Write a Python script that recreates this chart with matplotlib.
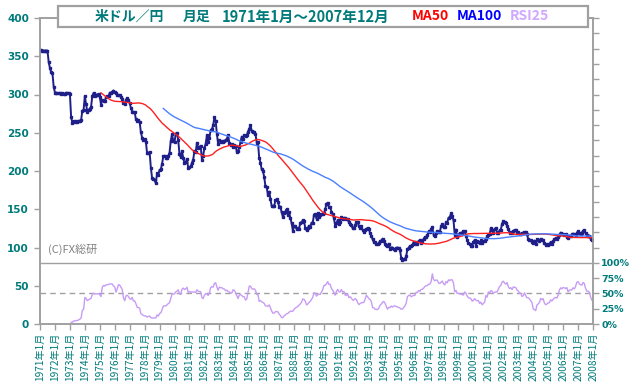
import numpy as np
import pandas as pd
import matplotlib
matplotlib.use("Agg")
import matplotlib.pyplot as plt
from matplotlib.patches import Rectangle

# USD/JPY monthly close, 1971-01 .. 2007-12
usdjpy = [
    357.7, 357.6, 357.5, 357.4, 357.4, 357.4, 357.3, 342.0, 334.5, 329.0, 327.5, 310.0,  # 1971
    302.5, 302.3, 301.8, 301.5, 302.0, 301.1, 301.7, 301.1, 301.2, 302.4, 301.9, 302.2,  # 1972
    301.1, 270.0, 263.0, 265.5, 264.5, 265.2, 264.5, 265.8, 265.5, 266.5, 279.0, 280.0,  # 1973
    298.0, 287.0, 277.5, 280.0, 281.5, 284.0, 298.0, 302.0, 298.5, 299.5, 300.0, 300.9,  # 1974
    297.0, 286.5, 293.0, 292.0, 291.5, 296.5, 298.0, 297.5, 302.5, 302.0, 303.0, 305.2,  # 1975
    303.0, 302.0, 299.5, 299.0, 299.5, 296.5, 293.5, 288.5, 287.0, 293.0, 295.5, 293.0,  # 1976
    288.5, 282.5, 277.5, 277.5, 277.0, 267.5, 265.5, 266.5, 264.5, 250.5, 243.5, 240.0,  # 1977
    241.5, 238.5, 223.0, 224.0, 224.5, 204.5, 190.5, 190.0, 188.5, 184.0, 197.5, 195.0,  # 1978
    201.5, 202.0, 209.5, 219.0, 220.0, 217.5, 217.0, 220.0, 224.0, 239.5, 248.0, 239.5,  # 1979
    238.0, 249.0, 250.0, 240.0, 222.0, 218.0, 226.0, 217.0, 210.0, 211.5, 216.0, 203.5,  # 1980
    205.0, 206.0, 210.5, 215.0, 226.0, 224.5, 237.0, 229.5, 231.0, 233.0, 215.0, 220.0,  # 1981
    230.0, 235.5, 246.5, 237.5, 243.0, 253.5, 254.5, 259.5, 270.0, 266.0, 249.0, 235.0,  # 1982
    240.0, 238.5, 239.0, 237.5, 239.5, 240.5, 241.5, 247.0, 237.0, 233.5, 235.0, 232.0,  # 1983
    234.0, 233.0, 225.0, 225.5, 231.0, 238.0, 245.0, 242.0, 246.5, 246.0, 246.5, 251.5,  # 1984
    255.0, 260.0, 252.5, 251.5, 251.0, 248.5, 237.0, 237.5, 217.0, 211.0, 202.0, 200.5,  # 1985
    192.0, 180.5, 179.0, 168.0, 173.0, 164.0, 154.0, 154.5, 154.0, 162.0, 163.0, 160.0,  # 1986
    153.5, 153.5, 146.0, 140.0, 144.5, 147.0, 150.0, 142.0, 146.0, 138.5, 132.0, 122.0,  # 1987
    127.5, 128.0, 124.0, 125.0, 124.5, 132.5, 133.0, 135.5, 134.5, 125.5, 122.5, 125.5,  # 1988
    128.5, 126.5, 132.5, 132.5, 143.0, 144.0, 137.5, 145.0, 139.5, 142.5, 143.5, 144.0,  # 1989
    144.5, 150.0, 157.0, 158.5, 152.5, 152.5, 147.0, 143.5, 138.0, 128.5, 132.0, 135.5,  # 1990
    131.0, 133.0, 140.0, 137.0, 139.0, 138.0, 137.5, 137.0, 133.0, 130.5, 130.0, 125.0,  # 1991
    125.5, 129.5, 133.0, 133.5, 128.0, 126.0, 127.5, 123.0, 120.0, 123.0, 124.5, 125.0,  # 1992
    124.5, 118.5, 115.5, 111.0, 107.0, 107.0, 105.0, 104.0, 105.5, 108.5, 109.0, 111.5,  # 1993
    109.0, 104.5, 103.0, 102.0, 105.0, 98.5, 100.0, 100.0, 98.5, 97.0, 99.0, 100.0,  # 1994
    99.5, 97.0, 86.5, 84.0, 84.5, 85.0, 88.5, 98.0, 99.5, 102.0, 101.5, 103.5,  # 1995
    107.0, 104.5, 107.0, 104.5, 108.5, 109.5, 106.5, 108.5, 111.5, 113.5, 113.5, 116.0,  # 1996
    121.0, 120.5, 124.0, 127.0, 116.5, 114.5, 118.5, 121.0, 120.5, 120.5, 127.5, 130.5,  # 1997
    127.0, 126.5, 133.5, 132.5, 139.0, 139.5, 144.5, 141.0, 135.5, 116.5, 123.5, 113.5,  # 1998
    116.0, 119.0, 118.5, 119.5, 121.5, 121.0, 115.0, 109.5, 106.0, 104.5, 102.0, 102.0,  # 1999
    107.5, 109.5, 102.5, 108.0, 107.5, 106.0, 109.5, 106.5, 108.0, 109.0, 111.0, 114.5,  # 2000
    116.5, 117.5, 125.5, 123.5, 119.0, 124.5, 125.0, 119.0, 119.5, 122.5, 123.5, 131.0,  # 2001
    134.5, 133.5, 132.5, 128.5, 124.0, 119.5, 120.0, 118.5, 122.0, 122.5, 122.5, 119.0,  # 2002
    120.0, 117.5, 118.0, 119.0, 119.0, 120.0, 120.5, 117.0, 111.0, 109.5, 109.5, 107.0,  # 2003
    106.0, 109.0, 104.0, 110.5, 109.5, 109.0, 111.5, 109.5, 110.0, 106.0, 103.0, 104.0,  # 2004
    103.5, 104.5, 107.0, 105.0, 108.5, 110.5, 112.5, 111.5, 113.5, 116.5, 119.5, 118.0,  # 2005
    117.5, 116.0, 117.5, 114.0, 112.5, 114.5, 114.5, 117.0, 118.0, 117.0, 116.0, 119.0,  # 2006
    121.5, 118.5, 118.0, 119.5, 121.5, 123.0, 118.5, 116.0, 115.0, 115.5, 111.5, 109.5,  # 2007
]

year_labels = [f"{y}年1月" for y in range(1971, 2009)]
left_ticks = [0, 50, 100, 150, 200, 250, 300, 350, 400]
rsi_labels = ["0%", "25%", "50%", "75%", "100%"]

TEAL = "#007a7a"
GREY = "#a0a0a0"
CJK = ["Noto Sans CJK JP", "DejaVu Sans"]

price = pd.Series(usdjpy)
ma50 = price.rolling(50).mean()
ma100 = price.rolling(100).mean()
diff = price.diff()
up = diff.clip(lower=0).rolling(25).sum()
dn = (-diff).clip(lower=0).rolling(25).sum()
rsi = up / (up + dn) * 100.0
# RSI band drawn on the 0..80 part of the price scale
rsi_scaled = rsi * 0.8

months = np.arange(len(price))

W, H = 630, 388
fig = plt.figure(figsize=(W / 100, H / 100), dpi=100)
ax = fig.add_axes([40 / W, 1 - 324 / H, 553 / W, (324 - 18) / H])

ax.axhline(80, color=GREY, lw=1.0, zorder=1)
ax.axhline(40, color=GREY, lw=1.0, ls=(0, (4, 3)), zorder=1)

ax.plot(months, rsi_scaled, color="#c79cf5", lw=1.0, zorder=2)
ax.plot(months, price, color="#1f1f8a", lw=1.4, marker="s", markersize=1.6, zorder=3)
ax.plot(months, ma50, color="#ff2020", lw=1.0, zorder=4)
ax.plot(months, ma100, color="#4a7fff", lw=1.0, zorder=4)

ax.set_xlim(0, 444)
ax.set_ylim(0, 400)
ax.set_yticks(left_ticks)
ax.set_yticklabels([str(v) for v in left_ticks], color=TEAL, fontsize=7.5, fontweight="bold")
ax.set_xticks(np.arange(0, 445, 12))
ax.set_xticklabels(year_labels, rotation=90, color=TEAL, fontsize=7.3, family=CJK, va="top")
ax.tick_params(axis="both", colors=GREY, length=4, width=1, direction="out")
ax.tick_params(axis="y", labelcolor=TEAL, pad=4)
ax.tick_params(axis="x", labelcolor=TEAL, pad=2)
for s in ax.spines.values():
    s.set_color(GREY)
    s.set_linewidth(1.2)

ax2 = ax.twinx()
ax2.set_ylim(0, 400)
ax2.set_yticks(np.arange(0, 401, 20))
ax2.set_yticklabels(rsi_labels + [""] * 16, color=TEAL, fontsize=6.8, fontweight="bold")
ax2.tick_params(axis="y", colors=GREY, length=4, width=1, labelcolor=TEAL, pad=2)
for s in ax2.spines.values():
    s.set_color(GREY)
    s.set_linewidth(1.2)

ax.text(0.015, 0.245, "(C)FX総研", transform=ax.transAxes, color="#808080",
        fontsize=8, family=CJK, va="center", ha="left")

# title box
fig.patches.append(Rectangle((58 / W, 1 - 27 / H), (588 - 58) / W, 21 / H,
                             transform=fig.transFigure, facecolor="white",
                             edgecolor=GREY, lw=1.6, zorder=5))
ty = 1 - 16.5 / H
fig.text(95 / W, ty, "米ドル／円", color=TEAL, fontsize=10, fontweight="bold", family=CJK, va="center", zorder=6)
fig.text(183 / W, ty, "月足", color=TEAL, fontsize=10, fontweight="bold", family=CJK, va="center", zorder=6)
fig.text(222 / W, ty, "1971年1月～2007年12月", color=TEAL, fontsize=10.5, fontweight="bold", family=CJK, va="center", zorder=6)
fig.text(412 / W, ty, "MA50", color="#ff0000", fontsize=10, fontweight="bold", family=CJK, va="center", zorder=6)
fig.text(457 / W, ty, "MA100", color="#0000ff", fontsize=10, fontweight="bold", family=CJK, va="center", zorder=6)
fig.text(510 / W, ty, "RSI25", color="#d0a8ff", fontsize=10, fontweight="bold", family=CJK, va="center", zorder=6)

fig.savefig("out.png", dpi=100)
